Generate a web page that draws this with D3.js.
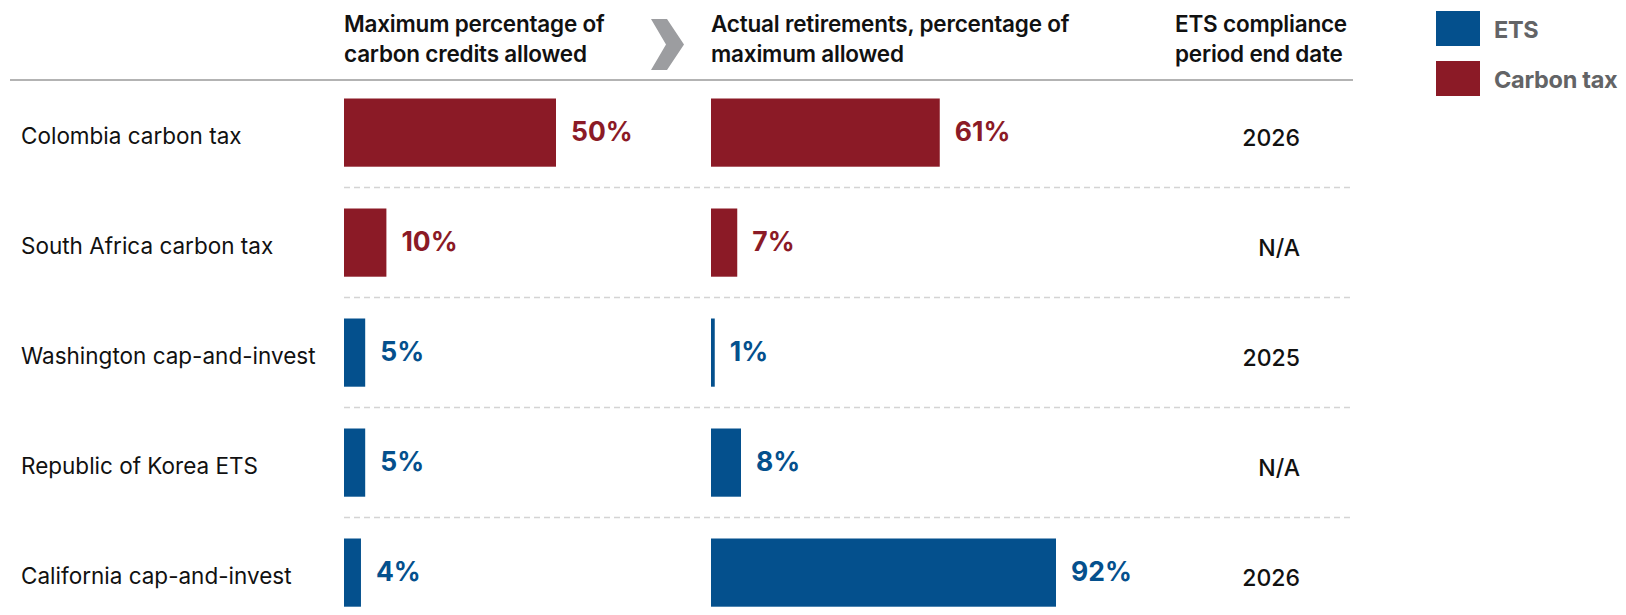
<!DOCTYPE html>
<html>
<head>
<meta charset="utf-8">
<script src="https://cdn.jsdelivr.net/npm/d3@7"></script>
<style>
  html, body { margin: 0; padding: 0; background: #fff; }
  svg { display: block; font-family: Inter, "Noto Sans", sans-serif; }
</style>
</head>
<body>
<svg id="chart" width="1626" height="615"></svg>
<script>
// Offsetting limits and actual use, by pricing instrument
const programs = [
  "Colombia carbon tax",
  "South Africa carbon tax",
  "Washington cap-and-invest",
  "Republic of Korea ETS",
  "California cap-and-invest"
];
const instrumentTypes = ["Carbon tax", "Carbon tax", "ETS", "ETS", "ETS"];
const maxAllowedPct = [50, 10, 5, 5, 4];
const actualRetiredPct = [61, 7, 1, 8, 92];
const periodEndDates = ["2026", "N/A", "2025", "N/A", "2026"];
const legendTypes = ["ETS", "Carbon tax"];
const headerMax = ["Maximum percentage of", "carbon credits allowed"];
const headerActual = ["Actual retirements, percentage of", "maximum allowed"];
const headerPeriod = ["ETS compliance", "period end date"];

const rows = programs.map((p, i) => ({
  program: p,
  type: instrumentTypes[i],
  maxAllowed: maxAllowedPct[i],
  actual: actualRetiredPct[i],
  periodEnd: periodEndDates[i]
}));

const color = d3.scaleOrdinal()
  .domain(legendTypes)
  .range(["#04508d", "#8b1a26"]);

const svg = d3.select("#chart");

const y = d3.scaleBand()
  .domain(programs)
  .range([77.6, 627.6])
  .paddingInner(0.38)
  .paddingOuter(0.19);

const xMax = d3.scaleLinear().domain([0, 100]).range([344, 768]);
const xActual = d3.scaleLinear().domain([0, 100]).range([711, 1086]);

// Column headers
function header(lines, x) {
  const t = svg.append("text")
    .attr("x", x)
    .attr("y", 32)
    .attr("font-size", 22.5)
    .attr("font-weight", 600)
    .attr("letter-spacing", -0.2)
    .attr("fill", "#111");
  lines.forEach((l, i) => {
    t.append("tspan").attr("x", x).attr("dy", i ? 30 : 0).text(l);
  });
}
header(headerMax, 344);
header(headerActual, 711);
header(headerPeriod, 1175);

// Chevron between the two bar columns
svg.append("path")
  .attr("d", "M651,19 L667,19 L684,44.5 L667,70 L651,70 L666,44.5 Z")
  .attr("fill", "#9c9da0");

// Header rule
svg.append("line")
  .attr("x1", 10).attr("x2", 1353)
  .attr("y1", 80).attr("y2", 80)
  .attr("stroke", "#b3b3b3")
  .attr("stroke-width", 2);

// Dashed separators between rows
svg.append("g")
  .selectAll("line")
  .data(programs.slice(1))
  .join("line")
  .attr("x1", 344).attr("x2", 1353)
  .attr("y1", d => y(d) - y.step() * y.paddingInner() / 2)
  .attr("y2", d => y(d) - y.step() * y.paddingInner() / 2)
  .attr("stroke", "#d4d4d4")
  .attr("stroke-width", 1.5)
  .attr("stroke-dasharray", "6,4");

// Row labels
svg.append("g")
  .selectAll("text")
  .data(rows)
  .join("text")
  .attr("x", 21)
  .attr("y", d => y(d.program) + y.bandwidth() / 2 + 5)
  .attr("dominant-baseline", "middle")
  .attr("font-size", 22.5)
  .attr("fill", "#111")
  .text(d => d.program);

// Bars and value labels for one column
function barColumn(x, key) {
  const g = svg.append("g");
  g.selectAll("rect")
    .data(rows)
    .join("rect")
    .attr("x", x(0))
    .attr("y", d => y(d.program))
    .attr("width", d => x(d[key]) - x(0))
    .attr("height", y.bandwidth())
    .attr("fill", d => color(d.type));
  g.selectAll("text")
    .data(rows)
    .join("text")
    .attr("x", d => x(d[key]) + 15)
    .attr("y", d => y(d.program) + y.bandwidth() / 2 + 1)
    .attr("dominant-baseline", "middle")
    .attr("font-size", 26.5)
    .attr("font-weight", 700)
    .attr("fill", d => color(d.type))
    .text(d => d[key] + "%");
}
barColumn(xMax, "maxAllowed");
barColumn(xActual, "actual");

// Compliance period end dates
svg.append("g")
  .selectAll("text")
  .data(rows)
  .join("text")
  .attr("x", 1300)
  .attr("y", d => y(d.program) + y.bandwidth() / 2 + 7)
  .attr("text-anchor", "end")
  .attr("dominant-baseline", "middle")
  .attr("font-size", 23)
  .attr("font-weight", 500)
  .attr("fill", "#111")
  .text(d => d.periodEnd);

// Legend
const legend = svg.append("g")
  .selectAll("g")
  .data(legendTypes)
  .join("g")
  .attr("transform", (d, i) => `translate(1436, ${11 + i * 50})`);
legend.append("rect")
  .attr("width", 44)
  .attr("height", 35)
  .attr("fill", d => color(d));
legend.append("text")
  .attr("x", 58)
  .attr("y", 21)
  .attr("dominant-baseline", "middle")
  .attr("font-size", 23.5)
  .attr("font-weight", 700)
  .attr("letter-spacing", -0.3)
  .attr("fill", "#636466")
  .text(d => d);
</script>
</body>
</html>
